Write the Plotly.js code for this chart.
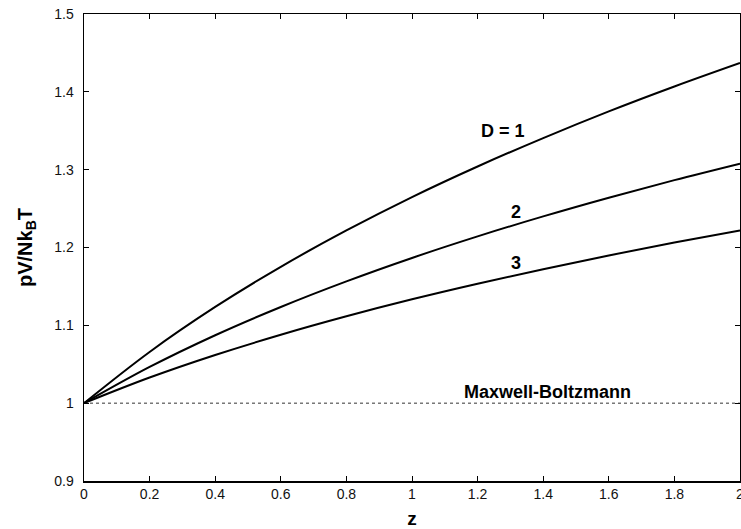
<!DOCTYPE html>
<html>
<head>
<meta charset="utf-8">
<script src="https://cdn.plot.ly/plotly-3.0.1.min.js"></script>
<style>
  html, body { margin: 0; padding: 0; background: #fff; }
  #chart { width: 741px; height: 529px; overflow: hidden; }
</style>
</head>
<body>
<div id="chart"></div>
<script>
// Fugacity z
const zValues = [0, 0.2, 0.4, 0.6, 0.8, 1.0, 1.2, 1.4, 1.6, 1.8, 2.0];
// pV/NkBT for D = 1, 2, 3
const d1Values = [1, 1.0658, 1.1236, 1.1752, 1.2219, 1.2648, 1.3041, 1.3406, 1.3749, 1.4069, 1.4371];
const d2Values = [1, 1.0465, 1.0873, 1.1236, 1.1565, 1.1866, 1.2143, 1.2400, 1.2640, 1.2866, 1.3078];
const d3Values = [1, 1.0329, 1.0619, 1.0879, 1.1116, 1.1334, 1.1534, 1.1721, 1.1898, 1.2063, 1.2219];
// Maxwell-Boltzmann reference
const mbZ = [0, 2];
const mbValues = [1, 1];

// Tick labels
const xTickVals = [0, 0.2, 0.4, 0.6, 0.8, 1, 1.2, 1.4, 1.6, 1.8, 2];
const xTickText = ['0', '0.2', '0.4', '0.6', '0.8', '1', '1.2', '1.4', '1.6', '1.8', '2'];
const yTickVals = [0.9, 1.0, 1.1, 1.2, 1.3, 1.4, 1.5];
const yTickText = ['0.9', '1', '1.1', '1.2', '1.3', '1.4', '1.5'];

// Curve labels
const labelTexts = ['D = 1', '2', '3', 'Maxwell-Boltzmann'];
const labelZ = [1.277, 1.316, 1.316, 1.4146];
const labelY = [1.350, 1.245, 1.1795, 1.0147];

const FONT = 'Liberation Sans, Arial, Helvetica, sans-serif';

const curve = (y) => ({
  x: zValues, y: y, type: 'scatter', mode: 'lines',
  line: { color: '#000', width: 2, shape: 'spline', smoothing: 1 },
  hoverinfo: 'skip', showlegend: false
});

const traces = [
  {
    x: mbZ, y: mbValues, type: 'scatter', mode: 'lines',
    line: { color: '#333', width: 1, dash: '3px,3px' },
    hoverinfo: 'skip', showlegend: false
  },
  curve(d1Values), curve(d2Values), curve(d3Values)
];

const annotations = labelTexts.map((t, i) => ({
  x: labelZ[i], y: labelY[i], xref: 'x', yref: 'y',
  text: '<b>' + t + '</b>', showarrow: false,
  xanchor: 'center', yanchor: 'middle',
  font: { family: FONT, size: 18, color: '#000' }
}));

const layout = {
  width: 741, height: 529,
  margin: { l: 84, r: 1, t: 14, b: 48, pad: 0 },
  paper_bgcolor: '#fff', plot_bgcolor: '#fff',
  font: { family: FONT, size: 14, color: '#000' },
  xaxis: {
    range: [0, 2], tickmode: 'array', tickvals: xTickVals, ticktext: xTickText,
    ticklabeloverflow: 'allow',
    showgrid: false, zeroline: false,
    showline: true, linecolor: '#000', linewidth: 1.5, mirror: 'allticks',
    ticks: 'inside', ticklen: 5, tickcolor: '#000', tickwidth: 1,
    tickfont: { family: FONT, size: 14, color: '#111' },
    title: { text: '<b>z</b>', font: { family: FONT, size: 19, color: '#000' }, standoff: 10 }
  },
  yaxis: {
    range: [0.9, 1.5], tickmode: 'array', tickvals: yTickVals, ticktext: yTickText,
    showgrid: false, zeroline: false,
    showline: true, linecolor: '#000', linewidth: 1.5, mirror: 'allticks',
    ticks: 'inside', ticklen: 5, tickcolor: '#000', tickwidth: 1,
    tickfont: { family: FONT, size: 14, color: '#111' },
    ticklabelstandoff: 6,
    title: { text: '<b>pV/Nk<sub>B</sub>T</b>', font: { family: FONT, size: 20, color: '#000' }, standoff: 16 }
  },
  annotations: annotations
};

Plotly.newPlot('chart', traces, layout, { displayModeBar: false, staticPlot: true });
</script>
</body>
</html>
